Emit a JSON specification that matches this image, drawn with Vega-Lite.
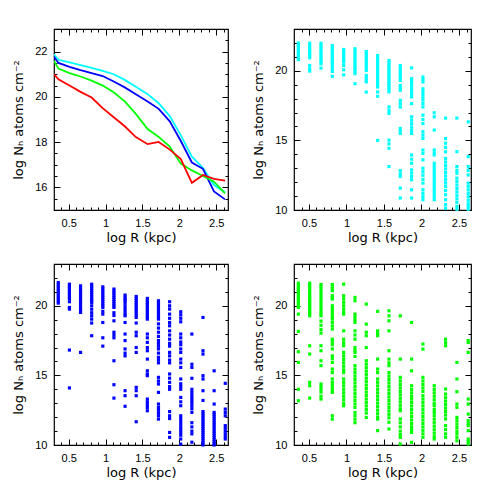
{
"$schema":"https://vega.github.io/schema/vega-lite/v6.json",
"padding":{"left":12,"top":27,"right":0,"bottom":0},
"background":"white",
"config":{
 "view":{"stroke":"black","strokeWidth":1.2},
 "axis":{"grid":false,"domain":false,"labelColor":"black","titleColor":"black","labelFont":"Liberation Sans","titleFont":"DejaVu Sans","labelFontSize":11,"titleFontSize":13,"titleFontWeight":"normal","format":"~g","labelFlush":false}
},
"columns":2,
"spacing":{"row":54,"column":66},
"bounds":"flush",
"datasets":{
"lines":[
{"s":"cyan","x":0.30,"y":21.88},{"s":"cyan","x":0.36,"y":21.64},{"s":"cyan","x":0.51,"y":21.52},{"s":"cyan","x":0.66,"y":21.40},{"s":"cyan","x":0.81,"y":21.28},{"s":"cyan","x":0.96,"y":21.15},{"s":"cyan","x":1.11,"y":21.0},{"s":"cyan","x":1.26,"y":20.75},{"s":"cyan","x":1.41,"y":20.45},{"s":"cyan","x":1.57,"y":20.12},{"s":"cyan","x":1.72,"y":19.72},{"s":"cyan","x":1.87,"y":19.15},{"s":"cyan","x":2.02,"y":18.3},{"s":"cyan","x":2.17,"y":17.36},{"s":"cyan","x":2.32,"y":16.87},{"s":"cyan","x":2.47,"y":16.1},{"s":"cyan","x":2.62,"y":15.78},
{"s":"blue","x":0.30,"y":21.77},{"s":"blue","x":0.36,"y":21.5},{"s":"blue","x":0.51,"y":21.33},{"s":"blue","x":0.66,"y":21.18},{"s":"blue","x":0.81,"y":21.05},{"s":"blue","x":0.96,"y":20.92},{"s":"blue","x":1.11,"y":20.68},{"s":"blue","x":1.26,"y":20.42},{"s":"blue","x":1.41,"y":20.12},{"s":"blue","x":1.57,"y":19.8},{"s":"blue","x":1.72,"y":19.47},{"s":"blue","x":1.87,"y":18.92},{"s":"blue","x":2.02,"y":18.05},{"s":"blue","x":2.17,"y":17.1},{"s":"blue","x":2.32,"y":16.82},{"s":"blue","x":2.47,"y":15.82},{"s":"blue","x":2.62,"y":15.47},
{"s":"green","x":0.30,"y":21.59},{"s":"green","x":0.36,"y":21.25},{"s":"green","x":0.51,"y":21.05},{"s":"green","x":0.66,"y":20.9},{"s":"green","x":0.81,"y":20.72},{"s":"green","x":0.96,"y":20.5},{"s":"green","x":1.11,"y":20.2},{"s":"green","x":1.26,"y":19.8},{"s":"green","x":1.41,"y":19.25},{"s":"green","x":1.57,"y":18.58},{"s":"green","x":1.72,"y":18.23},{"s":"green","x":1.87,"y":17.8},{"s":"green","x":2.02,"y":17.05},{"s":"green","x":2.17,"y":16.75},{"s":"green","x":2.32,"y":16.5},{"s":"green","x":2.47,"y":16.25},{"s":"green","x":2.62,"y":15.73},
{"s":"red","x":0.30,"y":21.0},{"s":"red","x":0.36,"y":20.78},{"s":"red","x":0.51,"y":20.5},{"s":"red","x":0.66,"y":20.22},{"s":"red","x":0.81,"y":19.97},{"s":"red","x":0.96,"y":19.5},{"s":"red","x":1.11,"y":19.1},{"s":"red","x":1.26,"y":18.7},{"s":"red","x":1.41,"y":18.22},{"s":"red","x":1.57,"y":17.91},{"s":"red","x":1.72,"y":18.01},{"s":"red","x":1.87,"y":17.67},{"s":"red","x":2.02,"y":17.25},{"s":"red","x":2.17,"y":16.2},{"s":"red","x":2.32,"y":16.55},{"s":"red","x":2.47,"y":16.38},{"s":"red","x":2.62,"y":16.3}
],
"cy":[
{"x":0.358,"y":22.0},{"x":0.358,"y":21.85},{"x":0.358,"y":21.7},{"x":0.358,"y":21.55},{"x":0.358,"y":21.4},{"x":0.358,"y":21.25},{"x":0.358,"y":21.1},{"x":0.358,"y":20.95},{"x":0.358,"y":20.8},
{"x":0.509,"y":21.98},{"x":0.509,"y":21.83},{"x":0.509,"y":21.68},{"x":0.509,"y":21.53},{"x":0.509,"y":21.38},{"x":0.509,"y":21.23},{"x":0.509,"y":21.08},{"x":0.509,"y":20.93},{"x":0.509,"y":20.38},{"x":0.509,"y":20.14},{"x":0.509,"y":19.98},
{"x":0.66,"y":21.98},{"x":0.66,"y":21.83},{"x":0.66,"y":21.68},{"x":0.66,"y":21.53},{"x":0.66,"y":21.38},{"x":0.66,"y":21.23},{"x":0.66,"y":21.08},{"x":0.66,"y":20.93},{"x":0.66,"y":20.78},{"x":0.66,"y":20.63},{"x":0.66,"y":20.5},{"x":0.66,"y":20.19},
{"x":0.811,"y":21.8},{"x":0.811,"y":21.65},{"x":0.811,"y":21.5},{"x":0.811,"y":21.35},{"x":0.811,"y":21.2},{"x":0.811,"y":21.05},{"x":0.811,"y":20.9},{"x":0.811,"y":20.75},{"x":0.811,"y":20.6},{"x":0.811,"y":20.5},{"x":0.811,"y":20.31},{"x":0.811,"y":20.14},{"x":0.811,"y":19.95},{"x":0.811,"y":19.6},
{"x":0.962,"y":21.53},{"x":0.962,"y":21.38},{"x":0.962,"y":21.23},{"x":0.962,"y":21.08},{"x":0.962,"y":20.93},{"x":0.962,"y":20.78},{"x":0.962,"y":20.62},{"x":0.962,"y":20.38},{"x":0.962,"y":20.07},{"x":0.962,"y":19.71},
{"x":1.113,"y":21.58},{"x":1.113,"y":21.43},{"x":1.113,"y":21.28},{"x":1.113,"y":21.13},{"x":1.113,"y":20.98},{"x":1.113,"y":20.83},{"x":1.113,"y":20.68},{"x":1.113,"y":20.53},{"x":1.113,"y":20.38},{"x":1.113,"y":20.23},{"x":1.113,"y":20.08},{"x":1.113,"y":19.93},{"x":1.113,"y":19.79},{"x":1.113,"y":19.07},
{"x":1.264,"y":21.38},{"x":1.264,"y":21.23},{"x":1.264,"y":21.08},{"x":1.264,"y":20.93},{"x":1.264,"y":20.78},{"x":1.264,"y":20.63},{"x":1.264,"y":20.48},{"x":1.264,"y":20.33},{"x":1.264,"y":20.18},{"x":1.264,"y":20.02},{"x":1.264,"y":19.67},{"x":1.264,"y":19.5},{"x":1.264,"y":19.3},{"x":1.264,"y":19.2},{"x":1.264,"y":18.47},
{"x":1.415,"y":21.1},{"x":1.415,"y":20.95},{"x":1.415,"y":20.8},{"x":1.415,"y":20.65},{"x":1.415,"y":20.5},{"x":1.415,"y":20.35},{"x":1.415,"y":20.2},{"x":1.415,"y":20.05},{"x":1.415,"y":19.9},{"x":1.415,"y":19.75},{"x":1.415,"y":19.6},{"x":1.415,"y":19.45},{"x":1.415,"y":19.3},{"x":1.415,"y":19.15},{"x":1.415,"y":19.0},{"x":1.415,"y":18.83},{"x":1.415,"y":18.48},{"x":1.415,"y":18.17},{"x":1.415,"y":15.0},
{"x":1.566,"y":20.74},{"x":1.566,"y":20.59},{"x":1.566,"y":20.44},{"x":1.566,"y":20.29},{"x":1.566,"y":20.14},{"x":1.566,"y":19.99},{"x":1.566,"y":19.84},{"x":1.566,"y":19.69},{"x":1.566,"y":19.54},{"x":1.566,"y":19.39},{"x":1.566,"y":19.24},{"x":1.566,"y":19.09},{"x":1.566,"y":18.94},{"x":1.566,"y":18.79},{"x":1.566,"y":18.64},{"x":1.566,"y":18.48},{"x":1.566,"y":17.4},{"x":1.566,"y":17.15},{"x":1.566,"y":16.93},{"x":1.566,"y":15.02},{"x":1.566,"y":14.75},{"x":1.566,"y":14.43},{"x":1.566,"y":13.12},
{"x":1.717,"y":20.38},{"x":1.717,"y":20.23},{"x":1.717,"y":20.08},{"x":1.717,"y":19.93},{"x":1.717,"y":19.78},{"x":1.717,"y":19.6},{"x":1.717,"y":19.45},{"x":1.717,"y":19.31},{"x":1.717,"y":18.95},{"x":1.717,"y":18.78},{"x":1.717,"y":18.6},{"x":1.717,"y":17.88},{"x":1.717,"y":17.64},{"x":1.717,"y":17.4},{"x":1.717,"y":15.86},{"x":1.717,"y":15.68},{"x":1.717,"y":15.5},{"x":1.717,"y":12.83},{"x":1.717,"y":12.6},{"x":1.717,"y":12.4},{"x":1.717,"y":11.57},{"x":1.717,"y":10.86},
{"x":1.868,"y":20.21},{"x":1.868,"y":19.43},{"x":1.868,"y":19.28},{"x":1.868,"y":19.1},{"x":1.868,"y":18.9},{"x":1.868,"y":18.7},{"x":1.868,"y":18.5},{"x":1.868,"y":18.3},{"x":1.868,"y":18.12},{"x":1.868,"y":17.64},{"x":1.868,"y":16.69},{"x":1.868,"y":16.45},{"x":1.868,"y":16.2},{"x":1.868,"y":15.95},{"x":1.868,"y":15.72},{"x":1.868,"y":15.5},{"x":1.868,"y":13.95},{"x":1.868,"y":13.65},{"x":1.868,"y":13.36},{"x":1.868,"y":12.88},{"x":1.868,"y":12.65},{"x":1.868,"y":12.4},{"x":1.868,"y":12.17},{"x":1.868,"y":11.45},{"x":1.868,"y":10.86},
{"x":2.019,"y":19.55},{"x":2.019,"y":19.37},{"x":2.019,"y":19.19},{"x":2.019,"y":18.71},{"x":2.019,"y":18.5},{"x":2.019,"y":18.3},{"x":2.019,"y":18.1},{"x":2.019,"y":17.9},{"x":2.019,"y":17.65},{"x":2.019,"y":17.4},{"x":2.019,"y":16.81},{"x":2.019,"y":16.5},{"x":2.019,"y":16.21},{"x":2.019,"y":15.62},{"x":2.019,"y":15.38},{"x":2.019,"y":15.14},{"x":2.019,"y":14.31},{"x":2.019,"y":14.07},{"x":2.019,"y":13.6},{"x":2.019,"y":13.0},{"x":2.019,"y":12.75},{"x":2.019,"y":12.5},{"x":2.019,"y":12.2},{"x":2.019,"y":11.93},{"x":2.019,"y":11.45},{"x":2.019,"y":11.2},{"x":2.019,"y":10.95},{"x":2.019,"y":10.74},
{"x":2.17,"y":16.98},{"x":2.17,"y":16.69},{"x":2.17,"y":15.74},{"x":2.17,"y":14.31},{"x":2.17,"y":14.1},{"x":2.17,"y":13.95},{"x":2.17,"y":13.36},{"x":2.17,"y":13.15},{"x":2.17,"y":12.95},{"x":2.17,"y":12.75},{"x":2.17,"y":12.55},{"x":2.17,"y":12.35},{"x":2.17,"y":12.15},{"x":2.17,"y":11.95},{"x":2.17,"y":11.75},{"x":2.17,"y":11.55},{"x":2.17,"y":11.35},{"x":2.17,"y":11.15},{"x":2.17,"y":10.95},{"x":2.17,"y":10.74},
{"x":2.321,"y":16.6},{"x":2.321,"y":15.13},{"x":2.321,"y":14.8},{"x":2.321,"y":14.5},{"x":2.321,"y":14.18},{"x":2.321,"y":13.7},{"x":2.321,"y":13.45},{"x":2.321,"y":13.2},{"x":2.321,"y":12.95},{"x":2.321,"y":12.7},{"x":2.321,"y":12.45},{"x":2.321,"y":12.2},{"x":2.321,"y":11.95},{"x":2.321,"y":11.7},{"x":2.321,"y":11.4},{"x":2.321,"y":11.1},{"x":2.321,"y":10.74},{"x":2.321,"y":10.38},{"x":2.321,"y":10.12},
{"x":2.472,"y":16.6},{"x":2.472,"y":14.19},{"x":2.472,"y":13.12},{"x":2.472,"y":12.85},{"x":2.472,"y":12.64},{"x":2.472,"y":12.29},{"x":2.472,"y":12.05},{"x":2.472,"y":11.8},{"x":2.472,"y":11.55},{"x":2.472,"y":11.3},{"x":2.472,"y":11.05},{"x":2.472,"y":10.8},{"x":2.472,"y":10.55},{"x":2.472,"y":10.26},{"x":2.472,"y":10.05},
{"x":2.623,"y":16.33},{"x":2.623,"y":13.83},{"x":2.623,"y":13.12},{"x":2.623,"y":12.85},{"x":2.623,"y":12.52},{"x":2.623,"y":11.93},{"x":2.623,"y":11.7},{"x":2.623,"y":11.45},{"x":2.623,"y":11.2},{"x":2.623,"y":10.95},{"x":2.623,"y":10.7},{"x":2.623,"y":10.45},{"x":2.623,"y":10.26},{"x":2.623,"y":10.05}
],
"bl":[
{"x":0.358,"y":21.67},{"x":0.358,"y":21.52},{"x":0.358,"y":21.37},{"x":0.358,"y":21.22},{"x":0.358,"y":21.07},{"x":0.358,"y":20.92},{"x":0.358,"y":20.77},{"x":0.358,"y":20.62},{"x":0.358,"y":20.47},{"x":0.358,"y":20.32},{"x":0.358,"y":20.19},
{"x":0.509,"y":21.55},{"x":0.509,"y":21.4},{"x":0.509,"y":21.25},{"x":0.509,"y":21.1},{"x":0.509,"y":20.95},{"x":0.509,"y":20.8},{"x":0.509,"y":20.65},{"x":0.509,"y":20.5},{"x":0.509,"y":20.29},{"x":0.509,"y":19.88},{"x":0.509,"y":19.76},{"x":0.509,"y":16.82},{"x":0.509,"y":14.1},
{"x":0.66,"y":21.43},{"x":0.66,"y":21.28},{"x":0.66,"y":21.13},{"x":0.66,"y":20.98},{"x":0.66,"y":20.83},{"x":0.66,"y":20.68},{"x":0.66,"y":20.53},{"x":0.66,"y":20.38},{"x":0.66,"y":20.23},{"x":0.66,"y":20.08},{"x":0.66,"y":19.93},{"x":0.66,"y":19.78},{"x":0.66,"y":19.63},{"x":0.66,"y":19.52},{"x":0.66,"y":16.65},
{"x":0.811,"y":21.55},{"x":0.811,"y":21.4},{"x":0.811,"y":21.25},{"x":0.811,"y":21.1},{"x":0.811,"y":20.95},{"x":0.811,"y":20.8},{"x":0.811,"y":20.65},{"x":0.811,"y":20.5},{"x":0.811,"y":20.35},{"x":0.811,"y":20.24},{"x":0.811,"y":20.0},{"x":0.811,"y":19.75},{"x":0.811,"y":19.5},{"x":0.811,"y":19.28},{"x":0.811,"y":19.04},{"x":0.811,"y":18.76},{"x":0.811,"y":17.85},
{"x":0.962,"y":21.36},{"x":0.962,"y":21.21},{"x":0.962,"y":21.06},{"x":0.962,"y":20.91},{"x":0.962,"y":20.76},{"x":0.962,"y":20.61},{"x":0.962,"y":20.46},{"x":0.962,"y":20.31},{"x":0.962,"y":20.16},{"x":0.962,"y":20.01},{"x":0.962,"y":19.88},{"x":0.962,"y":19.6},{"x":0.962,"y":19.4},{"x":0.962,"y":18.8},{"x":0.962,"y":17.7},{"x":0.962,"y":17.1},
{"x":1.113,"y":21.2},{"x":1.113,"y":21.05},{"x":1.113,"y":20.9},{"x":1.113,"y":20.75},{"x":1.113,"y":20.6},{"x":1.113,"y":20.45},{"x":1.113,"y":20.3},{"x":1.113,"y":20.15},{"x":1.113,"y":20.0},{"x":1.113,"y":19.88},{"x":1.113,"y":19.5},{"x":1.113,"y":19.3},{"x":1.113,"y":18.92},{"x":1.113,"y":18.1},{"x":1.113,"y":17.9},{"x":1.113,"y":17.7},{"x":1.113,"y":16.05},{"x":1.113,"y":14.33},{"x":1.113,"y":13.37},
{"x":1.264,"y":20.77},{"x":1.264,"y":20.62},{"x":1.264,"y":20.47},{"x":1.264,"y":20.36},{"x":1.264,"y":20.2},{"x":1.264,"y":20.0},{"x":1.264,"y":19.8},{"x":1.264,"y":19.6},{"x":1.264,"y":19.4},{"x":1.264,"y":19.28},{"x":1.264,"y":18.8},{"x":1.264,"y":17.97},{"x":1.264,"y":17.5},{"x":1.264,"y":16.9},{"x":1.264,"y":16.6},{"x":1.264,"y":16.4},{"x":1.264,"y":13.9},{"x":1.264,"y":13.54},{"x":1.264,"y":12.78},
{"x":1.415,"y":20.67},{"x":1.415,"y":20.52},{"x":1.415,"y":20.37},{"x":1.415,"y":20.22},{"x":1.415,"y":20.07},{"x":1.415,"y":19.92},{"x":1.415,"y":19.77},{"x":1.415,"y":19.62},{"x":1.415,"y":19.47},{"x":1.415,"y":19.32},{"x":1.415,"y":19.16},{"x":1.415,"y":18.76},{"x":1.415,"y":18.1},{"x":1.415,"y":17.85},{"x":1.415,"y":17.0},{"x":1.415,"y":16.65},{"x":1.415,"y":14.14},{"x":1.415,"y":13.9},{"x":1.415,"y":13.54},{"x":1.415,"y":11.67},
{"x":1.566,"y":20.53},{"x":1.566,"y":20.38},{"x":1.566,"y":20.23},{"x":1.566,"y":20.08},{"x":1.566,"y":19.93},{"x":1.566,"y":19.78},{"x":1.566,"y":19.63},{"x":1.566,"y":19.48},{"x":1.566,"y":19.33},{"x":1.566,"y":19.18},{"x":1.566,"y":19.04},{"x":1.566,"y":17.97},{"x":1.566,"y":17.7},{"x":1.566,"y":17.37},{"x":1.566,"y":17.0},{"x":1.566,"y":16.77},{"x":1.566,"y":16.17},{"x":1.566,"y":15.33},{"x":1.566,"y":15.1},{"x":1.566,"y":14.98},{"x":1.566,"y":13.3},{"x":1.566,"y":13.1},{"x":1.566,"y":12.9},{"x":1.566,"y":12.7},{"x":1.566,"y":12.46},
{"x":1.717,"y":20.36},{"x":1.717,"y":20.21},{"x":1.717,"y":20.06},{"x":1.717,"y":19.91},{"x":1.717,"y":19.76},{"x":1.717,"y":19.6},{"x":1.717,"y":19.45},{"x":1.717,"y":19.3},{"x":1.717,"y":19.15},{"x":1.717,"y":19.04},{"x":1.717,"y":18.7},{"x":1.717,"y":18.4},{"x":1.717,"y":18.1},{"x":1.717,"y":17.8},{"x":1.717,"y":17.5},{"x":1.717,"y":17.3},{"x":1.717,"y":17.1},{"x":1.717,"y":16.9},{"x":1.717,"y":16.6},{"x":1.717,"y":16.3},{"x":1.717,"y":16.1},{"x":1.717,"y":15.9},{"x":1.717,"y":14.86},{"x":1.717,"y":14.6},{"x":1.717,"y":14.38},{"x":1.717,"y":13.78},{"x":1.717,"y":12.94},{"x":1.717,"y":12.7},{"x":1.717,"y":12.5},{"x":1.717,"y":12.3},{"x":1.717,"y":12.1},{"x":1.717,"y":11.86},
{"x":1.868,"y":20.29},{"x":1.868,"y":20.0},{"x":1.868,"y":19.76},{"x":1.868,"y":19.4},{"x":1.868,"y":19.1},{"x":1.868,"y":18.8},{"x":1.868,"y":18.56},{"x":1.868,"y":18.2},{"x":1.868,"y":17.9},{"x":1.868,"y":17.6},{"x":1.868,"y":17.3},{"x":1.868,"y":17.1},{"x":1.868,"y":16.65},{"x":1.868,"y":16.4},{"x":1.868,"y":16.1},{"x":1.868,"y":15.9},{"x":1.868,"y":15.1},{"x":1.868,"y":14.8},{"x":1.868,"y":14.5},{"x":1.868,"y":14.2},{"x":1.868,"y":14.0},{"x":1.868,"y":12.4},{"x":1.868,"y":12.1},{"x":1.868,"y":11.9},{"x":1.868,"y":10.9},{"x":1.868,"y":10.55},
{"x":2.019,"y":19.57},{"x":2.019,"y":19.35},{"x":2.019,"y":19.1},{"x":2.019,"y":18.85},{"x":2.019,"y":17.97},{"x":2.019,"y":17.7},{"x":2.019,"y":17.4},{"x":2.019,"y":17.2},{"x":2.019,"y":16.9},{"x":2.019,"y":16.65},{"x":2.019,"y":16.17},{"x":2.019,"y":15.9},{"x":2.019,"y":15.57},{"x":2.019,"y":14.74},{"x":2.019,"y":14.4},{"x":2.019,"y":14.2},{"x":2.019,"y":14.0},{"x":2.019,"y":13.42},{"x":2.019,"y":13.1},{"x":2.019,"y":12.82},{"x":2.019,"y":12.1},{"x":2.019,"y":11.9},{"x":2.019,"y":11.7},{"x":2.019,"y":11.5},{"x":2.019,"y":11.3},{"x":2.019,"y":11.1},{"x":2.019,"y":10.9},{"x":2.019,"y":10.7},{"x":2.019,"y":10.43},{"x":2.019,"y":10.07},
{"x":2.17,"y":17.97},{"x":2.17,"y":15.8},{"x":2.17,"y":15.57},{"x":2.17,"y":14.79},{"x":2.17,"y":14.0},{"x":2.17,"y":13.8},{"x":2.17,"y":13.6},{"x":2.17,"y":13.4},{"x":2.17,"y":13.2},{"x":2.17,"y":13.0},{"x":2.17,"y":12.8},{"x":2.17,"y":12.6},{"x":2.17,"y":12.34},{"x":2.17,"y":11.6},{"x":2.17,"y":11.3},{"x":2.17,"y":11.0},{"x":2.17,"y":10.8},{"x":2.17,"y":10.2},
{"x":2.321,"y":19.16},{"x":2.321,"y":16.77},{"x":2.321,"y":16.53},{"x":2.321,"y":14.98},{"x":2.321,"y":14.74},{"x":2.321,"y":13.9},{"x":2.321,"y":13.2},{"x":2.321,"y":12.4},{"x":2.321,"y":12.25},{"x":2.321,"y":12.1},{"x":2.321,"y":11.95},{"x":2.321,"y":11.8},{"x":2.321,"y":11.65},{"x":2.321,"y":11.5},{"x":2.321,"y":11.35},{"x":2.321,"y":11.2},{"x":2.321,"y":11.05},{"x":2.321,"y":10.9},{"x":2.321,"y":10.75},{"x":2.321,"y":10.6},{"x":2.321,"y":10.45},{"x":2.321,"y":10.3},{"x":2.321,"y":10.15},{"x":2.321,"y":10.0},
{"x":2.472,"y":15.33},{"x":2.472,"y":13.9},{"x":2.472,"y":12.94},{"x":2.472,"y":12.34},{"x":2.472,"y":12.19},{"x":2.472,"y":12.04},{"x":2.472,"y":11.89},{"x":2.472,"y":11.74},{"x":2.472,"y":11.59},{"x":2.472,"y":11.44},{"x":2.472,"y":11.29},{"x":2.472,"y":11.14},{"x":2.472,"y":10.99},{"x":2.472,"y":10.84},{"x":2.472,"y":10.69},{"x":2.472,"y":10.54},{"x":2.472,"y":10.39},{"x":2.472,"y":10.24},{"x":2.472,"y":10.1},{"x":2.472,"y":10.0},
{"x":2.623,"y":14.43},{"x":2.623,"y":12.58},{"x":2.623,"y":12.34},{"x":2.623,"y":12.1},{"x":2.623,"y":11.39},{"x":2.623,"y":11.2},{"x":2.623,"y":11.0},{"x":2.623,"y":10.8},{"x":2.623,"y":10.6},{"x":2.623,"y":10.43}
],
"gr":[
{"x":0.358,"y":21.63},{"x":0.358,"y":21.48},{"x":0.358,"y":21.33},{"x":0.358,"y":21.18},{"x":0.358,"y":21.03},{"x":0.358,"y":20.88},{"x":0.358,"y":20.73},{"x":0.358,"y":20.58},{"x":0.358,"y":20.43},{"x":0.358,"y":20.28},{"x":0.358,"y":20.13},{"x":0.358,"y":19.98},{"x":0.358,"y":19.88},{"x":0.358,"y":19.4},{"x":0.358,"y":18.16},{"x":0.358,"y":16.7},{"x":0.358,"y":15.93},{"x":0.358,"y":14.0},{"x":0.358,"y":13.18},
{"x":0.509,"y":21.63},{"x":0.509,"y":21.48},{"x":0.509,"y":21.33},{"x":0.509,"y":21.18},{"x":0.509,"y":21.03},{"x":0.509,"y":20.88},{"x":0.509,"y":20.73},{"x":0.509,"y":20.58},{"x":0.509,"y":20.43},{"x":0.509,"y":20.28},{"x":0.509,"y":20.13},{"x":0.509,"y":19.98},{"x":0.509,"y":19.83},{"x":0.509,"y":19.68},{"x":0.509,"y":19.53},{"x":0.509,"y":19.4},{"x":0.509,"y":19.28},{"x":0.509,"y":17.13},{"x":0.509,"y":16.53},{"x":0.509,"y":14.5},{"x":0.509,"y":14.26},{"x":0.509,"y":13.37},
{"x":0.66,"y":21.53},{"x":0.66,"y":21.38},{"x":0.66,"y":21.2},{"x":0.66,"y":21.0},{"x":0.66,"y":20.8},{"x":0.66,"y":20.6},{"x":0.66,"y":20.4},{"x":0.66,"y":20.2},{"x":0.66,"y":20.0},{"x":0.66,"y":19.8},{"x":0.66,"y":19.6},{"x":0.66,"y":19.4},{"x":0.66,"y":19.28},{"x":0.66,"y":18.9},{"x":0.66,"y":18.6},{"x":0.66,"y":18.3},{"x":0.66,"y":18.04},{"x":0.66,"y":17.13},{"x":0.66,"y":16.77},{"x":0.66,"y":16.05},{"x":0.66,"y":15.7},{"x":0.66,"y":14.38},{"x":0.66,"y":14.2},{"x":0.66,"y":14.0},{"x":0.66,"y":13.8},{"x":0.66,"y":13.5},{"x":0.66,"y":13.3},
{"x":0.811,"y":21.53},{"x":0.811,"y":21.4},{"x":0.811,"y":21.25},{"x":0.811,"y":21.08},{"x":0.811,"y":20.72},{"x":0.811,"y":20.6},{"x":0.811,"y":20.48},{"x":0.811,"y":20.0},{"x":0.811,"y":19.8},{"x":0.811,"y":19.6},{"x":0.811,"y":19.4},{"x":0.811,"y":19.2},{"x":0.811,"y":19.04},{"x":0.811,"y":18.8},{"x":0.811,"y":18.55},{"x":0.811,"y":18.33},{"x":0.811,"y":17.6},{"x":0.811,"y":17.4},{"x":0.811,"y":17.2},{"x":0.811,"y":16.9},{"x":0.811,"y":16.4},{"x":0.811,"y":16.2},{"x":0.811,"y":15.93},{"x":0.811,"y":15.45},{"x":0.811,"y":15.2},{"x":0.811,"y":14.74},{"x":0.811,"y":14.5},{"x":0.811,"y":14.3},{"x":0.811,"y":14.1},{"x":0.811,"y":13.9},{"x":0.811,"y":13.78},{"x":0.811,"y":12.1},{"x":0.811,"y":11.86},
{"x":0.962,"y":21.55},{"x":0.962,"y":20.72},{"x":0.962,"y":20.5},{"x":0.962,"y":20.25},{"x":0.962,"y":20.0},{"x":0.962,"y":19.76},{"x":0.962,"y":19.55},{"x":0.962,"y":19.4},{"x":0.962,"y":18.2},{"x":0.962,"y":17.6},{"x":0.962,"y":17.35},{"x":0.962,"y":17.13},{"x":0.962,"y":16.65},{"x":0.962,"y":16.4},{"x":0.962,"y":16.15},{"x":0.962,"y":15.9},{"x":0.962,"y":15.65},{"x":0.962,"y":15.4},{"x":0.962,"y":15.2},{"x":0.962,"y":14.74},{"x":0.962,"y":14.5},{"x":0.962,"y":14.25},{"x":0.962,"y":14.0},{"x":0.962,"y":13.75},{"x":0.962,"y":13.5},{"x":0.962,"y":13.25},{"x":0.962,"y":13.0},{"x":0.962,"y":12.82},
{"x":1.113,"y":20.6},{"x":1.113,"y":20.36},{"x":1.113,"y":19.4},{"x":1.113,"y":19.2},{"x":1.113,"y":19.0},{"x":1.113,"y":18.8},{"x":1.113,"y":18.2},{"x":1.113,"y":17.9},{"x":1.113,"y":17.6},{"x":1.113,"y":17.0},{"x":1.113,"y":16.8},{"x":1.113,"y":16.65},{"x":1.113,"y":16.36},{"x":1.113,"y":15.7},{"x":1.113,"y":15.45},{"x":1.113,"y":15.2},{"x":1.113,"y":14.95},{"x":1.113,"y":14.7},{"x":1.113,"y":14.45},{"x":1.113,"y":14.2},{"x":1.113,"y":13.95},{"x":1.113,"y":13.7},{"x":1.113,"y":13.45},{"x":1.113,"y":13.2},{"x":1.113,"y":12.95},{"x":1.113,"y":12.7},{"x":1.113,"y":12.34},{"x":1.113,"y":12.1},{"x":1.113,"y":11.85},{"x":1.113,"y":11.6},
{"x":1.264,"y":20.12},{"x":1.264,"y":18.68},{"x":1.264,"y":18.1},{"x":1.264,"y":17.85},{"x":1.264,"y":17.0},{"x":1.264,"y":16.05},{"x":1.264,"y":15.8},{"x":1.264,"y":15.55},{"x":1.264,"y":15.3},{"x":1.264,"y":15.05},{"x":1.264,"y":14.8},{"x":1.264,"y":14.55},{"x":1.264,"y":14.3},{"x":1.264,"y":14.05},{"x":1.264,"y":13.8},{"x":1.264,"y":13.55},{"x":1.264,"y":13.3},{"x":1.264,"y":13.05},{"x":1.264,"y":12.8},{"x":1.264,"y":12.55},{"x":1.264,"y":12.3},{"x":1.264,"y":11.98},
{"x":1.415,"y":19.6},{"x":1.415,"y":18.2},{"x":1.415,"y":18.0},{"x":1.415,"y":17.85},{"x":1.415,"y":16.17},{"x":1.415,"y":15.45},{"x":1.415,"y":15.2},{"x":1.415,"y":14.74},{"x":1.415,"y":14.5},{"x":1.415,"y":14.25},{"x":1.415,"y":14.0},{"x":1.415,"y":13.75},{"x":1.415,"y":13.5},{"x":1.415,"y":13.25},{"x":1.415,"y":13.0},{"x":1.415,"y":12.75},{"x":1.415,"y":12.5},{"x":1.415,"y":12.25},{"x":1.415,"y":12.0},{"x":1.415,"y":11.86},{"x":1.415,"y":11.03},
{"x":1.566,"y":19.64},{"x":1.566,"y":19.28},{"x":1.566,"y":18.92},{"x":1.566,"y":18.2},{"x":1.566,"y":16.77},{"x":1.566,"y":16.17},{"x":1.566,"y":15.9},{"x":1.566,"y":15.7},{"x":1.566,"y":15.2},{"x":1.566,"y":14.95},{"x":1.566,"y":14.7},{"x":1.566,"y":14.45},{"x":1.566,"y":14.2},{"x":1.566,"y":13.95},{"x":1.566,"y":13.7},{"x":1.566,"y":13.45},{"x":1.566,"y":13.2},{"x":1.566,"y":12.95},{"x":1.566,"y":12.7},{"x":1.566,"y":12.45},{"x":1.566,"y":12.2},{"x":1.566,"y":11.95},{"x":1.566,"y":11.63},{"x":1.566,"y":11.15},
{"x":1.717,"y":19.28},{"x":1.717,"y":16.17},{"x":1.717,"y":14.86},{"x":1.717,"y":14.6},{"x":1.717,"y":14.35},{"x":1.717,"y":14.1},{"x":1.717,"y":13.85},{"x":1.717,"y":13.6},{"x":1.717,"y":13.35},{"x":1.717,"y":13.1},{"x":1.717,"y":12.85},{"x":1.717,"y":12.6},{"x":1.717,"y":12.46},{"x":1.717,"y":11.87},{"x":1.717,"y":11.6},{"x":1.717,"y":11.3},{"x":1.717,"y":11.0},{"x":1.717,"y":10.75},{"x":1.717,"y":10.55},{"x":1.717,"y":10.07},
{"x":1.868,"y":18.8},{"x":1.868,"y":16.17},{"x":1.868,"y":15.33},{"x":1.868,"y":14.26},{"x":1.868,"y":14.0},{"x":1.868,"y":13.75},{"x":1.868,"y":13.5},{"x":1.868,"y":13.3},{"x":1.868,"y":13.06},{"x":1.868,"y":12.8},{"x":1.868,"y":12.55},{"x":1.868,"y":12.3},{"x":1.868,"y":12.05},{"x":1.868,"y":11.8},{"x":1.868,"y":11.55},{"x":1.868,"y":11.3},{"x":1.868,"y":11.1},{"x":1.868,"y":10.9},{"x":1.868,"y":10.19},
{"x":2.019,"y":17.25},{"x":2.019,"y":16.89},{"x":2.019,"y":14.86},{"x":2.019,"y":14.6},{"x":2.019,"y":14.35},{"x":2.019,"y":14.1},{"x":2.019,"y":13.85},{"x":2.019,"y":13.54},{"x":2.019,"y":13.3},{"x":2.019,"y":13.05},{"x":2.019,"y":12.8},{"x":2.019,"y":12.55},{"x":2.019,"y":12.3},{"x":2.019,"y":12.05},{"x":2.019,"y":11.8},{"x":2.019,"y":11.55},{"x":2.019,"y":11.3},{"x":2.019,"y":11.05},{"x":2.019,"y":10.8},{"x":2.019,"y":10.55},
{"x":2.17,"y":14.26},{"x":2.17,"y":14.0},{"x":2.17,"y":13.75},{"x":2.17,"y":13.5},{"x":2.17,"y":13.25},{"x":2.17,"y":13.0},{"x":2.17,"y":12.82},{"x":2.17,"y":12.55},{"x":2.17,"y":12.34},{"x":2.17,"y":12.1},{"x":2.17,"y":11.85},{"x":2.17,"y":11.6},{"x":2.17,"y":11.35},{"x":2.17,"y":11.1},{"x":2.17,"y":10.85},{"x":2.17,"y":10.6},{"x":2.17,"y":10.43},
{"x":2.321,"y":17.6},{"x":2.321,"y":17.35},{"x":2.321,"y":17.13},{"x":2.321,"y":14.02},{"x":2.321,"y":13.66},{"x":2.321,"y":13.4},{"x":2.321,"y":13.15},{"x":2.321,"y":12.9},{"x":2.321,"y":12.65},{"x":2.321,"y":12.4},{"x":2.321,"y":12.15},{"x":2.321,"y":11.87},{"x":2.321,"y":11.39},{"x":2.321,"y":11.1},{"x":2.321,"y":10.8},{"x":2.321,"y":10.55},
{"x":2.472,"y":15.93},{"x":2.472,"y":14.74},{"x":2.472,"y":13.83},{"x":2.472,"y":12.94},{"x":2.472,"y":12.7},{"x":2.472,"y":11.98},{"x":2.472,"y":11.75},{"x":2.472,"y":11.5},{"x":2.472,"y":11.25},{"x":2.472,"y":11.0},{"x":2.472,"y":10.8},{"x":2.472,"y":10.55},{"x":2.472,"y":10.3},
{"x":2.623,"y":17.5},{"x":2.623,"y":17.37},{"x":2.623,"y":16.65},{"x":2.623,"y":13.3},{"x":2.623,"y":12.94},{"x":2.623,"y":12.22},{"x":2.623,"y":11.75},{"x":2.623,"y":11.55},{"x":2.623,"y":11.39},{"x":2.623,"y":11.03},{"x":2.623,"y":10.43},{"x":2.623,"y":10.25},{"x":2.623,"y":10.07}
]
},
"concat":[
{"width":174,"height":181,"data":{"name":"lines"},
 "resolve":{"axis":{"x":"independent","y":"independent"}},
 "layer":[
  {"mark":{"type":"line","strokeWidth":1.8,"clip":true},
   "encoding":{
    "x":{"field":"x","type":"quantitative","scale":{"domain":[0.3,2.66],"nice":false,"zero":false},"axis":{"orient":"bottom","values":[0.5,1,1.5,2,2.5],"ticks":false,"labelPadding":7,"title":"log R (kpc)","titlePadding":3}},
    "y":{"field":"y","type":"quantitative","scale":{"domain":[15,23],"nice":false,"zero":false},"axis":{"orient":"left","values":[16,18,20,22],"ticks":false,"labelPadding":7,"title":"log Nₕ  atoms cm⁻²","titlePadding":9}},
    "color":{"field":"s","type":"nominal","scale":{"domain":["cyan","blue","green","red"],"range":["#00FFFF","#0000FF","#00FF00","#FF0000"]},"legend":null}}},
  {"mark":{"type":"point","opacity":0},
   "encoding":{
    "x":{"field":"x","type":"quantitative","axis":{"orient":"bottom","values":[0.5,1,1.5,2,2.5],"labels":false,"tickSize":-6,"tickColor":"black","tickWidth":1,"title":null}},
    "y":{"field":"y","type":"quantitative","axis":{"orient":"left","values":[16,18,20,22],"labels":false,"tickSize":-6,"tickColor":"black","tickWidth":1,"title":null}}}},
  {"mark":{"type":"point","opacity":0},
   "encoding":{
    "x":{"field":"x","type":"quantitative","axis":{"orient":"bottom","values":[0.4,0.6,0.7,0.8,0.9,1.1,1.2,1.3,1.4,1.6,1.7,1.8,1.9,2.1,2.2,2.3,2.4,2.6],"labels":false,"tickSize":-3,"tickColor":"black","tickWidth":1,"title":null}},
    "y":{"field":"y","type":"quantitative","axis":{"orient":"left","values":[15.5,16.5,17,17.5,18.5,19,19.5,20.5,21,21.5,22.5],"labels":false,"tickSize":-3,"tickColor":"black","tickWidth":1,"title":null}}}},
  {"mark":{"type":"point","opacity":0},
   "encoding":{
    "x":{"field":"x","type":"quantitative","axis":{"orient":"top","values":[0.5,1,1.5,2,2.5],"labels":false,"tickSize":-6,"tickColor":"black","tickWidth":1,"title":null}},
    "y":{"field":"y","type":"quantitative","axis":{"orient":"right","values":[16,18,20,22],"labels":false,"tickSize":-6,"tickColor":"black","tickWidth":1,"title":null}}}},
  {"mark":{"type":"point","opacity":0},
   "encoding":{
    "x":{"field":"x","type":"quantitative","axis":{"orient":"top","values":[0.4,0.6,0.7,0.8,0.9,1.1,1.2,1.3,1.4,1.6,1.7,1.8,1.9,2.1,2.2,2.3,2.4,2.6],"labels":false,"tickSize":-3,"tickColor":"black","tickWidth":1,"title":null}},
    "y":{"field":"y","type":"quantitative","axis":{"orient":"right","values":[15.5,16.5,17,17.5,18.5,19,19.5,20.5,21,21.5,22.5],"labels":false,"tickSize":-3,"tickColor":"black","tickWidth":1,"title":null}}}}
 ]},
{"width":177,"height":181,"data":{"name":"cy"},
 "resolve":{"axis":{"x":"independent","y":"independent"}},
 "layer":[
  {"mark":{"type":"point","shape":"square","filled":true,"size":10,"color":"#00FFFF","opacity":1},
   "encoding":{
    "x":{"field":"x","type":"quantitative","scale":{"domain":[0.3,2.66],"nice":false,"zero":false},"axis":{"orient":"bottom","values":[0.5,1,1.5,2,2.5],"ticks":false,"labelPadding":7,"title":"log R (kpc)","titlePadding":3}},
    "y":{"field":"y","type":"quantitative","scale":{"domain":[10,23],"nice":false,"zero":false},"axis":{"orient":"left","values":[10,15,20],"ticks":false,"labelPadding":7,"title":"log Nₕ  atoms cm⁻²","titlePadding":9}}}},
  {"mark":{"type":"point","opacity":0},
   "encoding":{
    "x":{"field":"x","type":"quantitative","axis":{"orient":"bottom","values":[0.5,1,1.5,2,2.5],"labels":false,"tickSize":-6,"tickColor":"black","tickWidth":1,"title":null}},
    "y":{"field":"y","type":"quantitative","axis":{"orient":"left","values":[10,15,20],"labels":false,"tickSize":-6,"tickColor":"black","tickWidth":1,"title":null}}}},
  {"mark":{"type":"point","opacity":0},
   "encoding":{
    "x":{"field":"x","type":"quantitative","axis":{"orient":"bottom","values":[0.4,0.6,0.7,0.8,0.9,1.1,1.2,1.3,1.4,1.6,1.7,1.8,1.9,2.1,2.2,2.3,2.4,2.6],"labels":false,"tickSize":-3,"tickColor":"black","tickWidth":1,"title":null}},
    "y":{"field":"y","type":"quantitative","axis":{"orient":"left","values":[11,12,13,14,16,17,18,19,21,22],"labels":false,"tickSize":-3,"tickColor":"black","tickWidth":1,"title":null}}}},
  {"mark":{"type":"point","opacity":0},
   "encoding":{
    "x":{"field":"x","type":"quantitative","axis":{"orient":"top","values":[0.5,1,1.5,2,2.5],"labels":false,"tickSize":-6,"tickColor":"black","tickWidth":1,"title":null}},
    "y":{"field":"y","type":"quantitative","axis":{"orient":"right","values":[10,15,20],"labels":false,"tickSize":-6,"tickColor":"black","tickWidth":1,"title":null}}}},
  {"mark":{"type":"point","opacity":0},
   "encoding":{
    "x":{"field":"x","type":"quantitative","axis":{"orient":"top","values":[0.4,0.6,0.7,0.8,0.9,1.1,1.2,1.3,1.4,1.6,1.7,1.8,1.9,2.1,2.2,2.3,2.4,2.6],"labels":false,"tickSize":-3,"tickColor":"black","tickWidth":1,"title":null}},
    "y":{"field":"y","type":"quantitative","axis":{"orient":"right","values":[11,12,13,14,16,17,18,19,21,22],"labels":false,"tickSize":-3,"tickColor":"black","tickWidth":1,"title":null}}}}
 ]},
{"width":174,"height":181,"data":{"name":"bl"},
 "resolve":{"axis":{"x":"independent","y":"independent"}},
 "layer":[
  {"mark":{"type":"point","shape":"square","filled":true,"size":10,"color":"#0000FF","opacity":1},
   "encoding":{
    "x":{"field":"x","type":"quantitative","scale":{"domain":[0.3,2.66],"nice":false,"zero":false},"axis":{"orient":"bottom","values":[0.5,1,1.5,2,2.5],"ticks":false,"labelPadding":7,"title":"log R (kpc)","titlePadding":3}},
    "y":{"field":"y","type":"quantitative","scale":{"domain":[10,23],"nice":false,"zero":false},"axis":{"orient":"left","values":[10,15,20],"ticks":false,"labelPadding":7,"title":"log Nₕ  atoms cm⁻²","titlePadding":9}}}},
  {"mark":{"type":"point","opacity":0},
   "encoding":{
    "x":{"field":"x","type":"quantitative","axis":{"orient":"bottom","values":[0.5,1,1.5,2,2.5],"labels":false,"tickSize":-6,"tickColor":"black","tickWidth":1,"title":null}},
    "y":{"field":"y","type":"quantitative","axis":{"orient":"left","values":[10,15,20],"labels":false,"tickSize":-6,"tickColor":"black","tickWidth":1,"title":null}}}},
  {"mark":{"type":"point","opacity":0},
   "encoding":{
    "x":{"field":"x","type":"quantitative","axis":{"orient":"bottom","values":[0.4,0.6,0.7,0.8,0.9,1.1,1.2,1.3,1.4,1.6,1.7,1.8,1.9,2.1,2.2,2.3,2.4,2.6],"labels":false,"tickSize":-3,"tickColor":"black","tickWidth":1,"title":null}},
    "y":{"field":"y","type":"quantitative","axis":{"orient":"left","values":[11,12,13,14,16,17,18,19,21,22],"labels":false,"tickSize":-3,"tickColor":"black","tickWidth":1,"title":null}}}},
  {"mark":{"type":"point","opacity":0},
   "encoding":{
    "x":{"field":"x","type":"quantitative","axis":{"orient":"top","values":[0.5,1,1.5,2,2.5],"labels":false,"tickSize":-6,"tickColor":"black","tickWidth":1,"title":null}},
    "y":{"field":"y","type":"quantitative","axis":{"orient":"right","values":[10,15,20],"labels":false,"tickSize":-6,"tickColor":"black","tickWidth":1,"title":null}}}},
  {"mark":{"type":"point","opacity":0},
   "encoding":{
    "x":{"field":"x","type":"quantitative","axis":{"orient":"top","values":[0.4,0.6,0.7,0.8,0.9,1.1,1.2,1.3,1.4,1.6,1.7,1.8,1.9,2.1,2.2,2.3,2.4,2.6],"labels":false,"tickSize":-3,"tickColor":"black","tickWidth":1,"title":null}},
    "y":{"field":"y","type":"quantitative","axis":{"orient":"right","values":[11,12,13,14,16,17,18,19,21,22],"labels":false,"tickSize":-3,"tickColor":"black","tickWidth":1,"title":null}}}}
 ]},
{"width":177,"height":181,"data":{"name":"gr"},
 "resolve":{"axis":{"x":"independent","y":"independent"}},
 "layer":[
  {"mark":{"type":"point","shape":"square","filled":true,"size":10,"color":"#00FF00","opacity":1},
   "encoding":{
    "x":{"field":"x","type":"quantitative","scale":{"domain":[0.3,2.66],"nice":false,"zero":false},"axis":{"orient":"bottom","values":[0.5,1,1.5,2,2.5],"ticks":false,"labelPadding":7,"title":"log R (kpc)","titlePadding":3}},
    "y":{"field":"y","type":"quantitative","scale":{"domain":[10,23],"nice":false,"zero":false},"axis":{"orient":"left","values":[10,15,20],"ticks":false,"labelPadding":7,"title":"log Nₕ  atoms cm⁻²","titlePadding":9}}}},
  {"mark":{"type":"point","opacity":0},
   "encoding":{
    "x":{"field":"x","type":"quantitative","axis":{"orient":"bottom","values":[0.5,1,1.5,2,2.5],"labels":false,"tickSize":-6,"tickColor":"black","tickWidth":1,"title":null}},
    "y":{"field":"y","type":"quantitative","axis":{"orient":"left","values":[10,15,20],"labels":false,"tickSize":-6,"tickColor":"black","tickWidth":1,"title":null}}}},
  {"mark":{"type":"point","opacity":0},
   "encoding":{
    "x":{"field":"x","type":"quantitative","axis":{"orient":"bottom","values":[0.4,0.6,0.7,0.8,0.9,1.1,1.2,1.3,1.4,1.6,1.7,1.8,1.9,2.1,2.2,2.3,2.4,2.6],"labels":false,"tickSize":-3,"tickColor":"black","tickWidth":1,"title":null}},
    "y":{"field":"y","type":"quantitative","axis":{"orient":"left","values":[11,12,13,14,16,17,18,19,21,22],"labels":false,"tickSize":-3,"tickColor":"black","tickWidth":1,"title":null}}}},
  {"mark":{"type":"point","opacity":0},
   "encoding":{
    "x":{"field":"x","type":"quantitative","axis":{"orient":"top","values":[0.5,1,1.5,2,2.5],"labels":false,"tickSize":-6,"tickColor":"black","tickWidth":1,"title":null}},
    "y":{"field":"y","type":"quantitative","axis":{"orient":"right","values":[10,15,20],"labels":false,"tickSize":-6,"tickColor":"black","tickWidth":1,"title":null}}}},
  {"mark":{"type":"point","opacity":0},
   "encoding":{
    "x":{"field":"x","type":"quantitative","axis":{"orient":"top","values":[0.4,0.6,0.7,0.8,0.9,1.1,1.2,1.3,1.4,1.6,1.7,1.8,1.9,2.1,2.2,2.3,2.4,2.6],"labels":false,"tickSize":-3,"tickColor":"black","tickWidth":1,"title":null}},
    "y":{"field":"y","type":"quantitative","axis":{"orient":"right","values":[11,12,13,14,16,17,18,19,21,22],"labels":false,"tickSize":-3,"tickColor":"black","tickWidth":1,"title":null}}}}
 ]}
]
}
